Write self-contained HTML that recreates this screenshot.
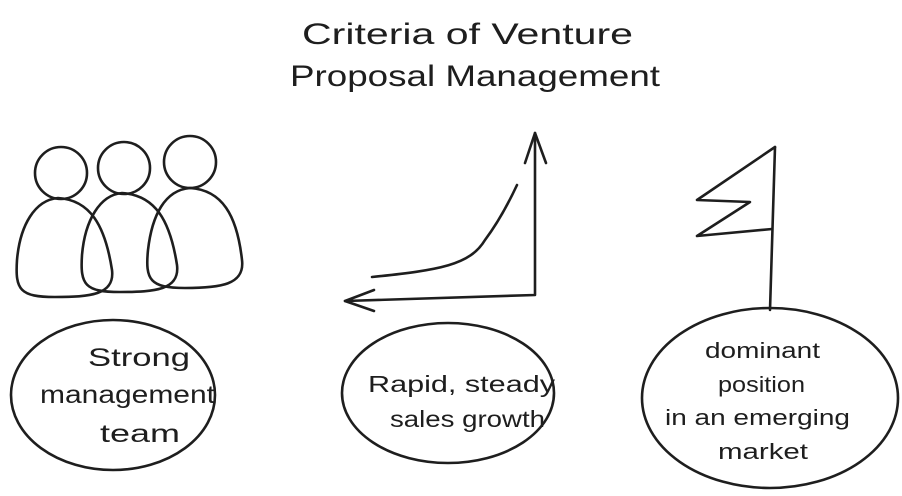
<!DOCTYPE html>
<html><head><style>
html,body{margin:0;padding:0;background:#fff;}
svg{display:block;}
text{font-family:"Liberation Sans",sans-serif;fill:#1e1e1e;}
</style></head><body>
<svg width="902" height="496" viewBox="0 0 902 496" xmlns="http://www.w3.org/2000/svg">
<g fill="none" stroke="#1e1e1e" stroke-width="2.6" stroke-linecap="round" stroke-linejoin="round">
<circle cx="61" cy="173" r="26"/>
<circle cx="124" cy="168" r="26"/>
<circle cx="190" cy="162" r="26"/>
<path d="M58,198 C90,200 105,225 112,270 C115,295 90,297 55,297 C20,297 15,290 17,260 C20,225 35,200 58,198 Z"/>
<path d="M122,193 C155,195 170,220 177,265 C180,290 155,292 120,292 C85,292 80,285 82,255 C85,220 100,195 122,193 Z"/>
<path d="M190,188 C222,190 237,215 242,260 C245,285 220,288 185,288 C150,288 145,280 148,250 C152,215 165,190 190,188 Z"/>
<path d="M535,133 L535,295 L345,301"/>
<path d="M525,163 L535,133 L546,163"/>
<path d="M374,290 L345,301 L374,311"/>
<path d="M372,277 C440,270 470,265 485,240 C500,220 510,200 517,185"/>
<path d="M775,147 L770,310"/>
<path d="M775,147 L697,200 L750,202 L697,236 L772,229"/>
<ellipse cx="113" cy="395" rx="102" ry="75"/>
<ellipse cx="448" cy="393" rx="106" ry="70"/>
<ellipse cx="770" cy="398" rx="128" ry="90"/>
</g>
<g lengthAdjust="spacingAndGlyphs">
<text x="302" y="44" font-size="30" textLength="331" lengthAdjust="spacingAndGlyphs">Criteria of Venture</text>
<text x="290" y="86" font-size="30" textLength="370" lengthAdjust="spacingAndGlyphs">Proposal Management</text>
<text x="88" y="366" font-size="25" textLength="102" lengthAdjust="spacingAndGlyphs">Strong</text>
<text x="40" y="403" font-size="25" textLength="175" lengthAdjust="spacingAndGlyphs">management</text>
<text x="100" y="442" font-size="25" textLength="80" lengthAdjust="spacingAndGlyphs">team</text>
<text x="368" y="392" font-size="23" textLength="187" lengthAdjust="spacingAndGlyphs">Rapid, steady</text>
<text x="390" y="427" font-size="23" textLength="155" lengthAdjust="spacingAndGlyphs">sales growth</text>
<text x="705" y="358" font-size="22" textLength="115" lengthAdjust="spacingAndGlyphs">dominant</text>
<text x="718" y="392" font-size="22" textLength="87" lengthAdjust="spacingAndGlyphs">position</text>
<text x="665" y="425" font-size="22" textLength="185" lengthAdjust="spacingAndGlyphs">in an emerging</text>
<text x="718" y="459" font-size="22" textLength="90" lengthAdjust="spacingAndGlyphs">market</text>
</g>
</svg>
</body></html>
